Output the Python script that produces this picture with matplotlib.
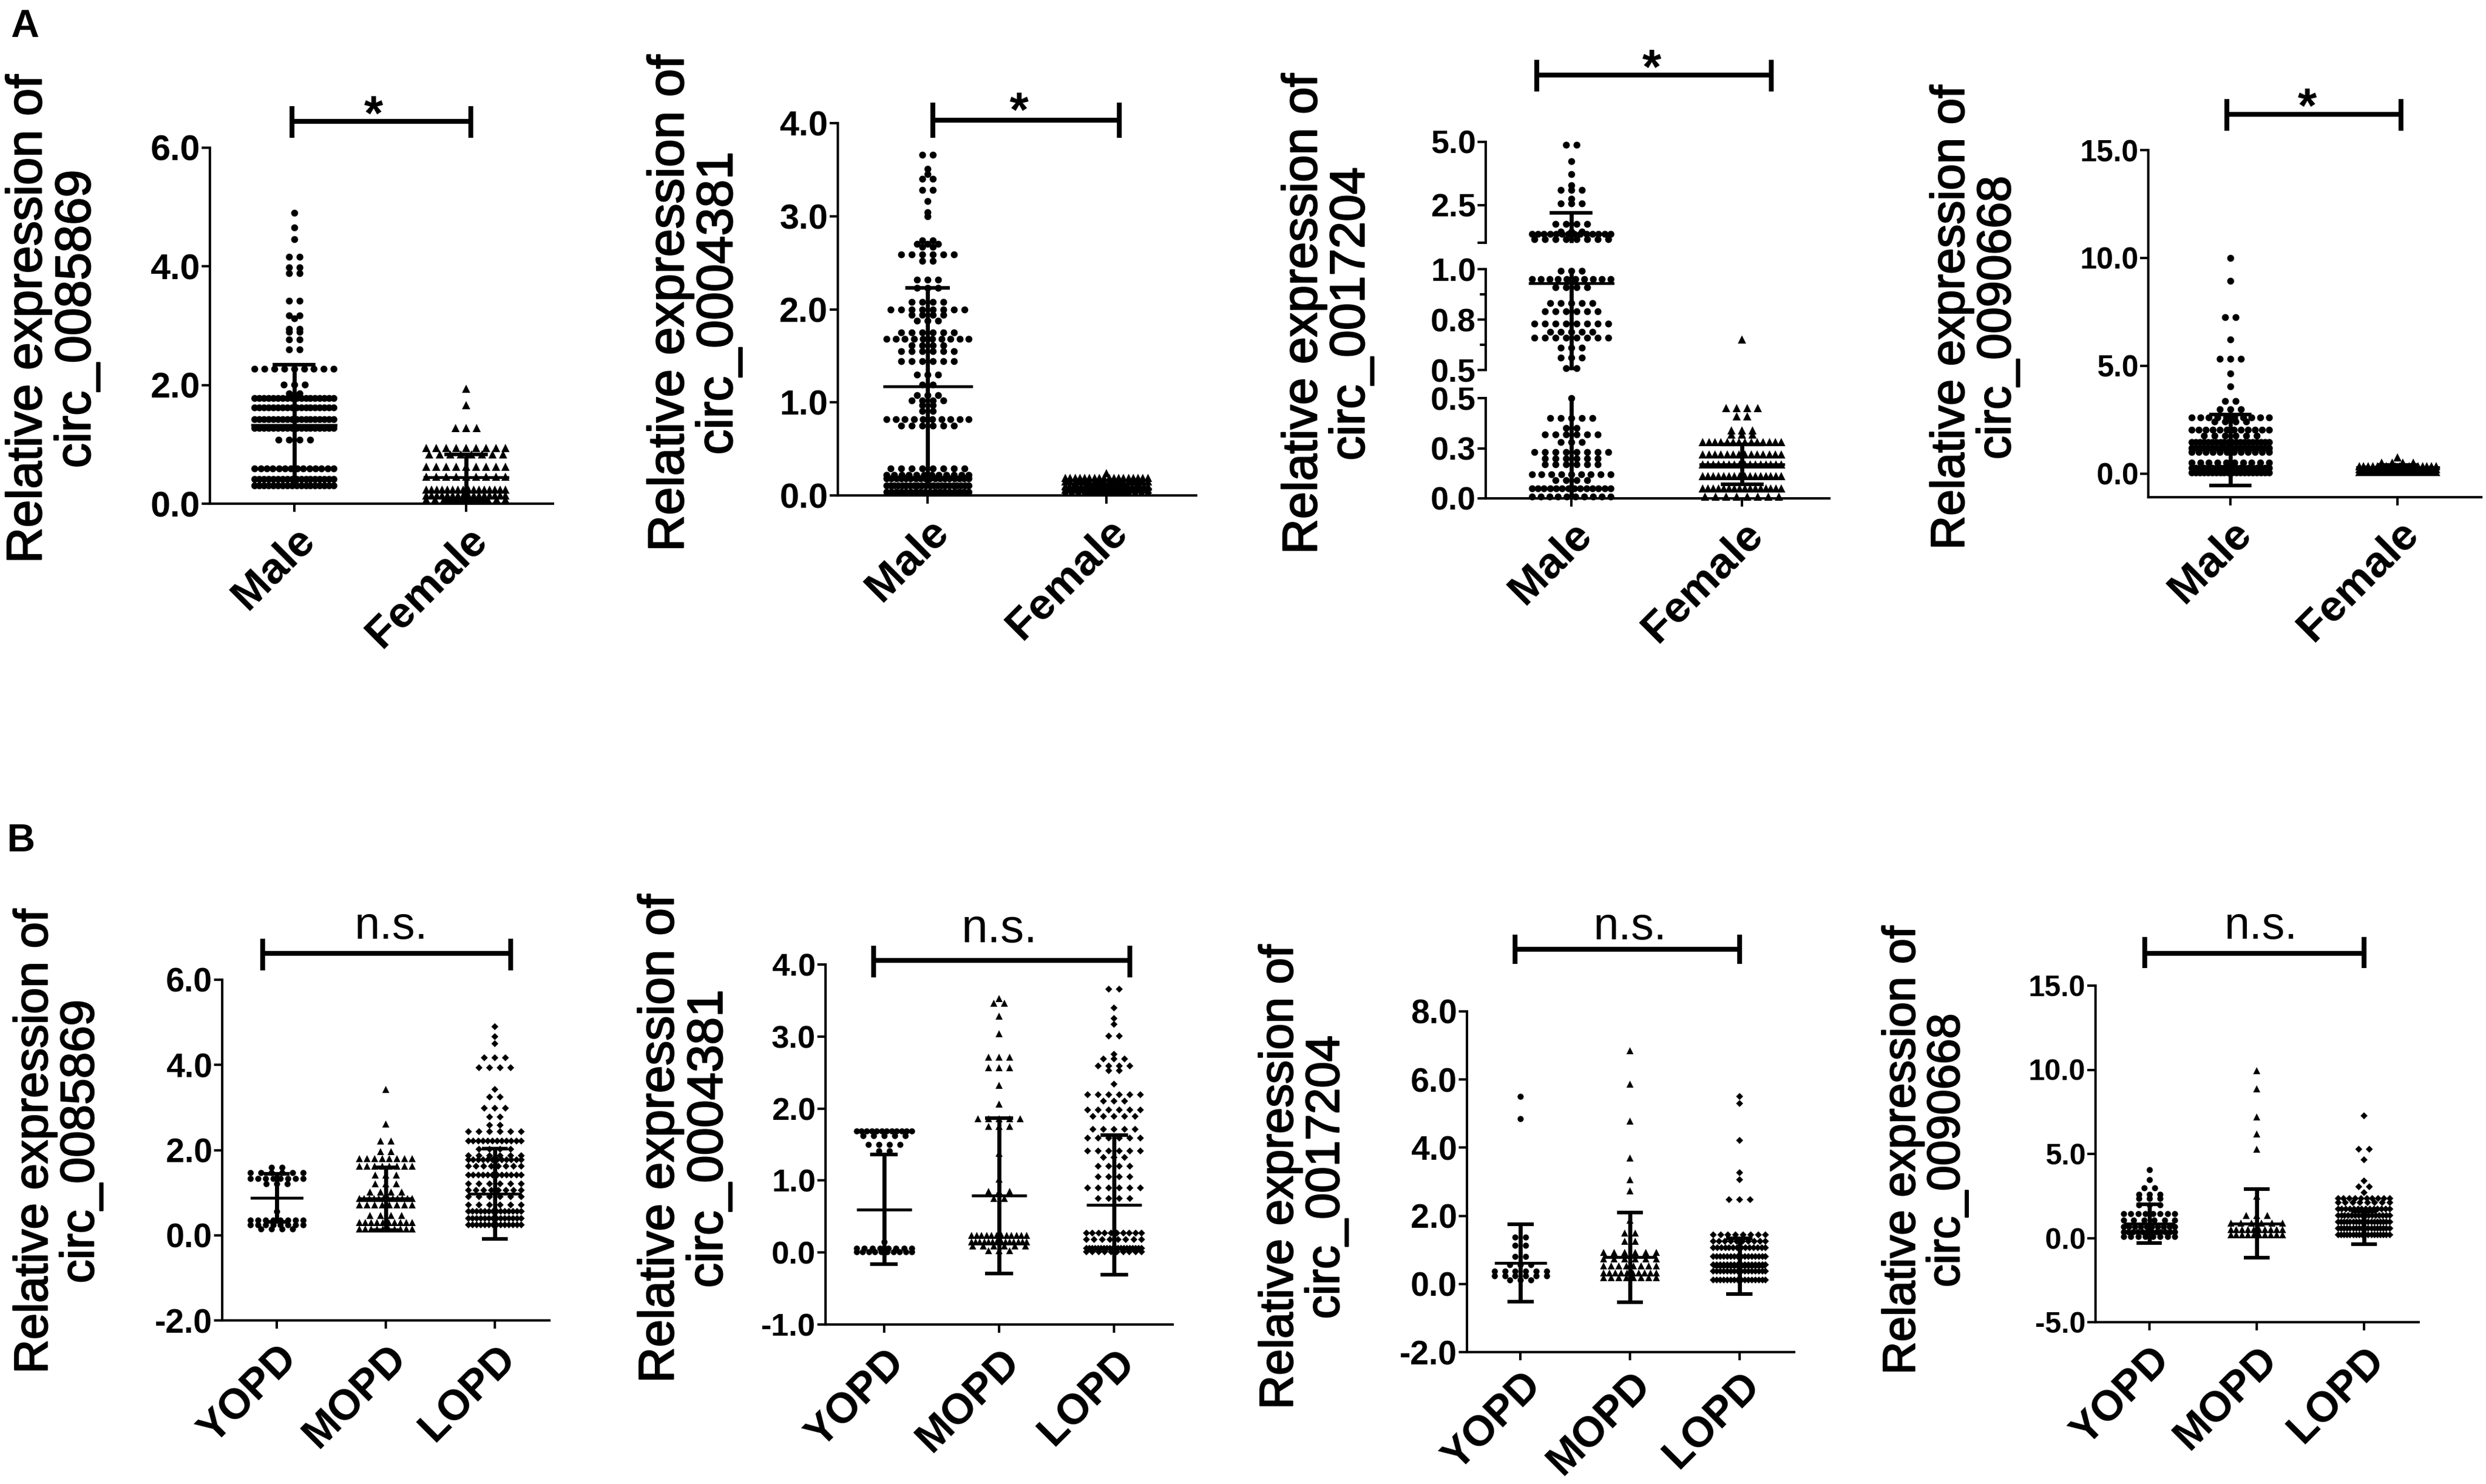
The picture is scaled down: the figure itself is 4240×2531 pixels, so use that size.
import numpy as np
import matplotlib.pyplot as plt
import matplotlib.patheffects as pe
from matplotlib.transforms import blended_transform_factory

plt.rcParams['font.family'] = ['Liberation Sans', 'DejaVu Sans']

# ---- values: (value, number of dots in that row) ----
sex_groups = ['Male', 'Female']
age_groups = ['YOPD', 'MOPD', 'LOPD']

a1_male = [(4.90, 1), (4.66, 1), (4.46, 1), (4.16, 2), (3.98, 2), (3.88, 2), (3.42, 2),
           (3.17, 2), (3.12, 1), (2.95, 2), (2.90, 2), (2.77, 2), (2.60, 2), (2.27, 9),
           (2.01, 3), (1.86, 2), (1.78, 18), (1.62, 18), (1.42, 18), (1.28, 18), (1.08, 4),
           (0.59, 14), (0.42, 18), (0.31, 18)]
a1_female = [(1.94, 1), (1.66, 1), (1.28, 3), (0.94, 9), (0.83, 8), (0.62, 9), (0.45, 9),
             (0.24, 16), (0.14, 16), (0.07, 10)]
a2_male = [(3.66, 2), (3.51, 1), (3.45, 1), (3.40, 2), (3.28, 2), (3.16, 1), (3.04, 1),
           (3.00, 1), (2.74, 2), (2.70, 3), (2.67, 2), (2.59, 6), (2.52, 2), (2.32, 3),
           (2.23, 3), (2.08, 4), (2.00, 8), (1.94, 4), (1.88, 3), (1.75, 6), (1.68, 10),
           (1.61, 4), (1.55, 6), (1.44, 6), (1.30, 3), (1.19, 2), (1.08, 3), (1.02, 4),
           (0.97, 2), (0.91, 2), (0.82, 10), (0.75, 6), (0.29, 8), (0.22, 12), (0.18, 18),
           (0.11, 22), (0.04, 18)]
a2_female = [(0.24, 1), (0.19, 18), (0.15, 18), (0.10, 22), (0.06, 22), (0.03, 14)]
a3_male = [(4.89, 2), (4.24, 1), (3.71, 1), (3.27, 1), (3.10, 3), (2.74, 1), (2.55, 3),
           (1.75, 4), (1.45, 3), (1.35, 14), (1.13, 8),
           (0.99, 3), (0.95, 10), (0.91, 4), (0.83, 5), (0.79, 6), (0.73, 8), (0.69, 5),
           (0.66, 8), (0.61, 3), (0.56, 3), (0.51, 2),
           (0.50, 1), (0.40, 5), (0.35, 2), (0.32, 6), (0.28, 3), (0.23, 8), (0.20, 6),
           (0.17, 6), (0.12, 9), (0.09, 4), (0.05, 14), (0.01, 10)]
a3_female = [(0.65, 1), (0.45, 4), (0.41, 2), (0.34, 3), (0.32, 3), (0.28, 14), (0.22, 14),
             (0.17, 16), (0.11, 16), (0.05, 16), (0.01, 8)]
a4_male = [(9.99, 1), (8.94, 1), (7.24, 2), (6.21, 1), (5.32, 3), (4.65, 1), (4.04, 1),
           (3.37, 2), (2.99, 3), (2.61, 10), (2.42, 4), (2.04, 12), (1.75, 6), (1.47, 20),
           (1.18, 20), (0.99, 12), (0.51, 10), (0.27, 20), (0.04, 20)]
a4_female = [(0.76, 1), (0.51, 4), (0.35, 18), (0.20, 24), (0.08, 20)]

b1_yopd = [(1.60, 2), (1.47, 6), (1.33, 8), (1.21, 3), (0.56, 1), (0.35, 8), (0.25, 8), (0.15, 4)]
b1_mopd = [(3.42, 1), (2.61, 1), (2.22, 2), (1.97, 2), (1.80, 8), (1.62, 8), (1.42, 3),
           (1.21, 3), (1.01, 4), (0.86, 12), (0.71, 8), (0.46, 4), (0.30, 10), (0.15, 10)]
b1_lopd = [(4.90, 1), (4.67, 1), (4.50, 1), (4.17, 3), (3.94, 4), (3.42, 1), (3.24, 2),
           (2.98, 3), (2.78, 2), (2.58, 2), (2.43, 6), (2.22, 12), (2.02, 4), (1.87, 6),
           (1.77, 12), (1.62, 8), (1.42, 12), (1.21, 6), (1.06, 8), (0.91, 6), (0.71, 6),
           (0.56, 14), (0.40, 14), (0.25, 14)]
b2_yopd = [(1.69, 12), (1.62, 5), (1.50, 4), (1.41, 2), (0.15, 1), (0.06, 8), (0.01, 10)]
b2_mopd = [(3.53, 1), (3.46, 2), (3.28, 1), (3.04, 1), (2.71, 3), (2.57, 3), (2.32, 1),
           (2.06, 1), (1.86, 5), (1.75, 3), (1.38, 1), (1.02, 1), (0.85, 3), (0.75, 2),
           (0.24, 12), (0.15, 14), (0.09, 6), (0.03, 3)]
b2_lopd = [(3.66, 2), (3.40, 1), (3.25, 1), (3.17, 1), (3.01, 2), (2.75, 1), (2.69, 3),
           (2.59, 4), (2.53, 2), (2.34, 1), (2.19, 6), (2.10, 3), (1.98, 6), (1.89, 5),
           (1.71, 5), (1.59, 6), (1.41, 6), (1.32, 3), (1.20, 4), (1.05, 4), (0.90, 6),
           (0.75, 4), (0.27, 10), (0.18, 8), (0.06, 20), (0.01, 10)]
b3_yopd = [(5.51, 1), (4.85, 1), (1.38, 2), (1.13, 2), (0.81, 2), (0.56, 3), (0.37, 6),
           (0.24, 6), (0.11, 3)]
b3_mopd = [(6.84, 1), (5.86, 1), (4.79, 1), (3.69, 1), (3.06, 1), (2.73, 1), (1.88, 1),
           (1.50, 2), (1.25, 2), (0.93, 6), (0.74, 6), (0.53, 8), (0.33, 10), (0.18, 8)]
b3_lopd = [(5.51, 1), (5.29, 1), (4.22, 1), (3.27, 1), (3.06, 1), (2.47, 3), (1.44, 8),
           (1.25, 10), (1.06, 14), (0.81, 16), (0.56, 16), (0.37, 16), (0.11, 16)]
b4_yopd = [(4.07, 1), (3.45, 1), (2.99, 2), (2.61, 3), (2.35, 3), (1.97, 3), (1.46, 8),
           (1.07, 6), (0.69, 10), (0.36, 12), (0.10, 8)]
b4_mopd = [(9.95, 1), (8.87, 1), (7.21, 1), (6.19, 1), (5.29, 1), (2.48, 1), (1.33, 3),
           (0.90, 6), (0.49, 10), (0.18, 10)]
b4_lopd = [(7.26, 1), (5.29, 2), (4.65, 1), (3.38, 1), (3.04, 2), (2.69, 1), (2.35, 10),
           (2.10, 8), (1.71, 14), (1.33, 16), (0.95, 18), (0.56, 18), (0.18, 18)]

# mean and SD lines as drawn
a1_mean, a1_sd = [1.32, 0.44], [1.02, 0.39]
a2_mean, a2_sd = [1.17, 0.07], [1.06, 0.05]
a3_mean, a3_sd = [0.93, 0.17], [1.25, 0.10]
a4_mean, a4_sd = [1.09, 0.30], [1.65, 0.10]
b1_mean, b1_sd = [0.88, 0.86, 0.98], [0.56, 0.74, 1.06]
b2_mean, b2_sd = [0.60, 0.79, 0.66], [0.76, 1.08, 0.97]
b3_mean, b3_sd = [0.62, 0.78, 0.52], [1.14, 1.32, 0.82]
b4_mean, b4_sd = [0.87, 0.87, 0.61], [1.15, 2.05, 0.98]

W, H, DPI = 4240, 2531, 100
fig = plt.figure(figsize=(W / DPI, H / DPI), dpi=DPI)

A_XLAB, B_XLAB = 54, 52
A_XPAD, B_XPAD = 9, 11


def add_axes(left, top, right, bottom):
    ax = fig.add_axes([left / W, 1 - bottom / H, (right - left) / W, (bottom - top) / H])
    ax.set_facecolor('none')
    for s in ['top', 'right']:
        ax.spines[s].set_visible(False)
    for s in ['left', 'bottom']:
        ax.spines[s].set_linewidth(3)
    ax.tick_params(width=3, length=10)
    return ax


def set_yticks(ax, ticks, labels, size):
    ax.set_yticks(ticks)
    ax.set_yticklabels(labels, fontsize=size, fontweight='bold')
    ax.tick_params(axis='y', pad=2)


def set_xticks(ax, names, size, pad):
    ax.set_xticks(range(len(names)))
    ax.set_xticklabels(names, rotation=45, ha='right', va='top', rotation_mode='anchor',
                       fontsize=size, fontweight='bold')
    ax.tick_params(axis='x', pad=pad)


def dots(ax, rows, xc, marker, ms, unit_px, hw, lo=-np.inf, hi=np.inf, gap=18):
    s0 = gap / unit_px
    xs, ys = [], []
    for v, n in rows:
        if not lo <= v <= hi:
            continue
        s = s0 if n < 2 else min(s0, 2 * hw / (n - 1))
        for i in range(n):
            xs.append(xc + (i - (n - 1) / 2) * s)
            ys.append(v)
    ax.plot(xs, ys, ls='none', marker=marker, ms=ms, mfc='black', mec='black', mew=0,
            clip_on=False, zorder=3)


def mean_sd(ax, xc, m, sd, lo, hi, mw=0.25, cw=0.125, lw_mean=3.5):
    top, bot = m + sd, m - sd
    a, b = max(bot, lo), min(top, hi)
    kw = dict(color='black', solid_capstyle='butt', clip_on=False, zorder=4)
    if b > a:
        ax.plot([xc, xc], [a, b], lw=5, **kw)
    if lo <= m <= hi:
        ax.plot([xc - mw, xc + mw], [m, m], lw=lw_mean, **kw)
    for y in (top, bot):
        if lo <= y <= hi:
            ax.plot([xc - cw, xc + cw], [y, y], lw=4.5, **kw)


def sig_bar(ax, x0, x1, y, y_top, y_bot, label, x_text, label_y, size, weight):
    tr = blended_transform_factory(ax.transData, fig.transFigure)
    kw = dict(transform=tr, color='black', lw=6, clip_on=False, solid_capstyle='butt')
    ax.plot([x0, x1], [1 - y / H] * 2, **kw)
    for x in (x0, x1):
        ax.plot([x, x], [1 - y_top / H, 1 - y_bot / H], **kw)
    ax.text(x_text, 1 - label_y / H, label, transform=tr, ha='center', va='baseline',
            fontsize=size, fontweight=weight)


def ylabel(x, y, name, size, spacing=1.05):
    fig.text(x / W, 1 - y / H, 'Relative expression of\n' + name, rotation=90,
             ha='center', va='center', multialignment='center', fontsize=size,
             linespacing=spacing,
             path_effects=[pe.withStroke(linewidth=1.6, foreground='black')])


def simple_panel(box, xlim, ylim, yticks, tick_size, names, rows, markers, sizes, means, sds,
                 xlab_size, xpad, hw, mw=0.25):
    left, top, right, bottom = box
    ax = add_axes(left, top, right, bottom)
    ax.set_xlim(xlim)
    ax.set_ylim(ylim)
    unit_px = (right - left) / (xlim[1] - xlim[0])
    for i in range(len(names)):
        dots(ax, rows[i], i, markers[i], sizes[i], unit_px, hw)
        mean_sd(ax, i, means[i], sds[i], ylim[0], ylim[1], mw=mw, cw=mw / 2)
    set_yticks(ax, yticks, ['%.1f' % t for t in yticks], tick_size)
    set_xticks(ax, names, xlab_size, xpad)
    return ax


# ---------------- row A ----------------
ax = simple_panel((358, 252, 943, 859), (-0.49, 1.505), (0, 6), [0, 2, 4, 6], 44,
                  sex_groups, [a1_male, a1_female], ['o', '^'], [8.5, 9.5], a1_mean, a1_sd,
                  A_XLAB, A_XPAD, 0.23)
sig_bar(ax, -0.014, 1.027, 207, 181, 235, '*', 0.46, 174 + 48, 60, 'bold')
ylabel(90, 544, 'circ_0085869', 61)

ax = simple_panel((1429, 210, 2040, 845), (-0.502, 1.5), (0, 4), [0, 1, 2, 3, 4], 43,
                  sex_groups, [a2_male, a2_female], ['o', '^'], [8.5, 9.5], a2_mean, a2_sd,
                  A_XLAB, A_XPAD, 0.23)
sig_bar(ax, 0.03, 1.07, 205, 175, 235, '*', 0.51, 168 + 48, 60, 'bold')
ylabel(1185, 517, 'circ_0004381', 62)

# A3: broken y axis in three segments
a3_xlim = (-0.50, 1.51)
a3_unit = (3120 - 2534) / (a3_xlim[1] - a3_xlim[0])
segments = [
    ((2534, 242, 3120, 414), (1.0, 5.0), (1.005, 5.0), [1.0, 2.5, 5.0], ['', '2.5', '5.0'], []),
    ((2534, 459, 3120, 631), (0.5, 1.0), (0.505, 1.0), [0.5, 0.75, 1.0], ['0.5', '0.8', '1.0'],
     [0.625, 0.875]),
    ((2534, 679, 3120, 850), (0.0, 0.5), (0.0, 0.5), [0.0, 0.25, 0.5], ['0.0', '0.3', '0.5'], []),
]
a3_rows = [a3_male, a3_female]
for k, (box, ylim, keep, ticks, labels, minor) in enumerate(segments):
    ax = add_axes(*box)
    ax.set_xlim(a3_xlim)
    ax.set_ylim(ylim)
    for i in range(2):
        dots(ax, a3_rows[i], i, ['o', '^'][i], [8.5, 9.5][i], a3_unit, 0.23, keep[0], keep[1])
        mean_sd(ax, i, a3_mean[i], a3_sd[i], ylim[0], ylim[1])
    set_yticks(ax, ticks, labels, 40)
    if minor:
        ax.set_yticks(minor, minor=True)
        ax.tick_params(axis='y', which='minor', width=3, length=7)
    if k < 2:
        ax.spines['bottom'].set_visible(False)
        ax.set_xticks([])
    else:
        set_xticks(ax, sex_groups, A_XLAB, A_XPAD)
    if k == 0:
        sig_bar(ax, -0.20, 1.17, 128, 102, 156, '*', 0.47, 95 + 48, 60, 'bold')
ylabel(2264, 535, 'circ_0017204', 60)

ax = simple_panel((3664, 256, 4232, 848), (-0.49, 1.50), (-1.1, 15), [0, 5, 10, 15], 37,
                  sex_groups, [a4_male, a4_female], ['o', '^'], [8.5, 9.5], a4_mean, a4_sd,
                  A_XLAB, A_XPAD, 0.23)
sig_bar(ax, -0.02, 1.02, 195, 169, 223, '*', 0.46, 161 + 48, 60, 'bold')
ylabel(3368, 542, 'circ_0090668', 58)

# ---------------- row B ----------------
b_markers = ['o', '^', 'D']
b_sizes = [7.5, 8.5, 6.2]

ax = simple_panel((379, 1671, 937, 2252), (-0.5, 2.5), (-2, 6), [-2, 0, 2, 4, 6], 41,
                  age_groups, [b1_yopd, b1_mopd, b1_lopd], b_markers, b_sizes, b1_mean, b1_sd,
                  B_XLAB, B_XPAD, 0.24, mw=0.24)
sig_bar(ax, -0.13, 2.145, 1626, 1601, 1655, 'n.s.', 1.05, 1601, 56, 'normal')
ylabel(99, 1947, 'circ_0085869', 58)

ax = simple_panel((1408, 1645, 2000, 2259), (-0.51, 2.51), (-1, 4), [-1, 0, 1, 2, 3, 4], 39,
                  age_groups, [b2_yopd, b2_mopd, b2_lopd], b_markers, b_sizes, b2_mean, b2_sd,
                  B_XLAB, B_XPAD, 0.24, mw=0.24)
sig_bar(ax, -0.09, 2.14, 1638, 1613, 1667, 'n.s.', 1.0, 1607, 58, 'normal')
ylabel(1168, 1942, 'circ_0004381', 61)

ax = simple_panel((2502, 1725, 3060, 2306), (-0.49, 2.5), (-2, 8), [-2, 0, 2, 4, 6, 8], 41,
                  age_groups, [b3_yopd, b3_mopd, b3_lopd], b_markers, b_sizes, b3_mean, b3_sd,
                  B_XLAB, 5, 0.24, mw=0.24)
sig_bar(ax, -0.05, 2.0, 1619, 1594, 1644, 'n.s.', 1.0, 1602, 56, 'normal')
ylabel(2223, 2008, 'circ_0017204', 58)

ax = simple_panel((3574, 1681, 4125, 2255), (-0.5, 2.51), (-5, 15), [-5, 0, 5, 10, 15], 36,
                  age_groups, [b4_yopd, b4_mopd, b4_lopd], b_markers, b_sizes, b4_mean, b4_sd,
                  B_XLAB, B_XPAD, 0.24, mw=0.24)
sig_bar(ax, -0.04, 2.0, 1626, 1598, 1651, 'n.s.', 1.04, 1601, 56, 'normal')
ylabel(3283, 1962, 'circ_0090668', 56)

fig.text(18 / W, 1 - 63 / H, 'A', fontsize=48, fontweight='bold', va='baseline', ha='left')
fig.text(12 / W, 1 - 1452 / H, 'B', fontsize=48, fontweight='bold', va='baseline', ha='left')

fig.savefig('out.png', dpi=DPI, facecolor='white')
